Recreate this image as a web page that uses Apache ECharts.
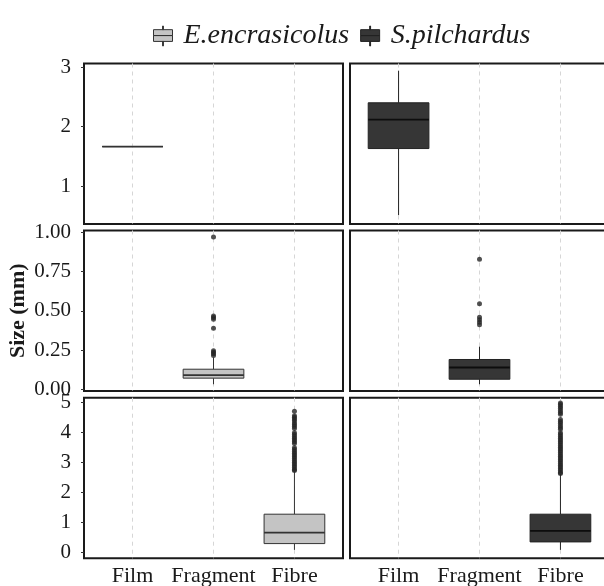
<!DOCTYPE html>
<html>
<head>
<meta charset="utf-8">
<script src="https://cdn.jsdelivr.net/npm/echarts@6/dist/echarts.min.js"></script>
<style>html,body{margin:0;padding:0;background:#fff}#c{width:604px;height:586px}</style>
</head>
<body>
<div id="c"></div>
<script>
// ---- data ----
const categories = ['Film', 'Fragment', 'Fibre'];
const speciesNames = ['E.encrasicolus', 'S.pilchardus'];
const rowTicks = [[1, 2, 3], [0, 0.25, 0.5, 0.75, 1], [0, 1, 2, 3, 4, 5]];
const rowRanges = [[0.36, 3.064], [-0.011, 1.013], [-0.2, 5.15]];
// box stats: [min whisker, Q1, median, Q3, max whisker]
const enFilm = [1.665, 1.665, 1.665, 1.665, 1.665];
const enFragment = [0.032, 0.071, 0.09, 0.128, 0.203];
const enFibre = [0.077, 0.287, 0.653, 1.267, 2.67];
const spFilm = [0.509, 1.631, 2.117, 2.402, 2.943];
const spFragment = [0.032, 0.064, 0.139, 0.19, 0.272];
const spFibre = [0.077, 0.343, 0.71, 1.267, 2.6];
// outliers
const enFragmentOut = [0.972, 0.468, 0.458, 0.447, 0.389, 0.246, 0.236, 0.226, 0.216];
const spFragmentOut = [0.83, 0.546, 0.46, 0.443, 0.428, 0.411];
const enFibreOut = [4.70, 4.55, 4.50, 4.44, 4.38, 4.31, 4.25, 4.19, 4.12, 3.98, 3.92, 3.86, 3.80, 3.74, 3.68, 3.62,
  3.48, 3.42, 3.36, 3.30, 3.24, 3.18, 3.12, 3.06, 3.00, 2.94, 2.88, 2.82, 2.76, 2.72];
const spFibreOut = [4.97, 4.92, 4.86, 4.80, 4.72, 4.66, 4.60, 4.42, 4.36, 4.30, 4.22, 4.16, 4.10, 3.98, 3.92, 3.86,
  3.80, 3.74, 3.68, 3.62, 3.56, 3.50, 3.44, 3.38, 3.32, 3.26, 3.20, 3.14, 3.08, 3.02, 2.96, 2.90, 2.84, 2.78, 2.72, 2.66, 2.62];

// ---- layout ----
const colLeft = [84, 350];
const panelW = 259;
const rowTop = [63.5, 230.5, 397.7];
const panelH = 160.5;
const fills = ['#c4c4c4', '#363636'];
const strokes = ['#333333', '#222222'];
const medians = ['#333333', '#0d0d0d'];
const FONT = '"Liberation Serif", "Times New Roman", serif';

const facets = [
  // [row, col, categoryIndex, stats, outliers]
  [0, 0, 0, enFilm, []],
  [0, 1, 0, spFilm, []],
  [1, 0, 1, enFragment, enFragmentOut],
  [1, 1, 1, spFragment, spFragmentOut],
  [2, 0, 2, enFibre, enFibreOut],
  [2, 1, 2, spFibre, spFibreOut]
];

function renderBox(fill, stroke, median) {
  return function (params, api) {
    const x = api.value(0);
    const lo = api.coord([x, api.value(1)]);
    const q1 = api.coord([x, api.value(2)]);
    const md = api.coord([x, api.value(3)]);
    const q3 = api.coord([x, api.value(4)]);
    const hi = api.coord([x, api.value(5)]);
    const half = api.size([0.75, 0])[0] / 2;
    const cx = q1[0];
    return {
      type: 'group',
      children: [
        { type: 'line', shape: { x1: cx, y1: q3[1], x2: cx, y2: hi[1] }, style: { stroke: stroke, lineWidth: 1 } },
        { type: 'line', shape: { x1: cx, y1: q1[1], x2: cx, y2: lo[1] }, style: { stroke: stroke, lineWidth: 1 } },
        { type: 'rect', shape: { x: cx - half, y: q3[1], width: 2 * half, height: q1[1] - q3[1] }, style: { fill: fill, stroke: stroke, lineWidth: 1 } },
        { type: 'line', shape: { x1: cx - half, y1: md[1], x2: cx + half, y2: md[1] }, style: { stroke: median, lineWidth: 1.8 } }
      ]
    };
  };
}

const grids = [], xAxes = [], yAxes = [], series = [];
let gi = 0;
for (let r = 0; r < 3; r++) {
  for (let c = 0; c < 2; c++) {
    grids.push({
      left: colLeft[c], top: rowTop[r], width: panelW, height: panelH,
      show: true, backgroundColor: '#fff', borderColor: '#1a1a1a', borderWidth: 2,
      containLabel: false, outerBoundsMode: 'none'
    });
    xAxes.push({
      gridIndex: gi, type: 'value', min: 0.4, max: 3.6,
      axisLine: { show: false },
      axisTick: { show: false, customValues: [1, 2, 3] },
      splitLine: { show: true, lineStyle: { color: '#d6d6d6', width: 1, type: [4, 4] } },
      axisLabel: {
        show: r === 2, customValues: [1, 2, 3], margin: 7,
        formatter: v => categories[Math.round(v) - 1] || '',
        fontFamily: FONT, fontSize: 22, color: '#1a1a1a'
      }
    });
    const yA = {
      gridIndex: gi, type: 'value', min: rowRanges[r][0], max: rowRanges[r][1],
      axisLine: { show: false },
      axisTick: { show: c === 0, customValues: rowTicks[r], length: 3, lineStyle: { color: '#333' } },
      splitLine: { show: false },
      axisLabel: {
        show: c === 0, customValues: rowTicks[r], margin: 13,
        formatter: v => r === 1 ? v.toFixed(2) : String(v),
        fontFamily: FONT, fontSize: 21, color: '#1a1a1a'
      }
    };
    if (r === 1 && c === 0) {
      yA.name = 'Size (mm)';
      yA.nameLocation = 'middle';
      yA.nameGap = 55;
      yA.nameTextStyle = { fontFamily: FONT, fontWeight: 'bold', fontSize: 22, color: '#1a1a1a' };
    }
    yAxes.push(yA);
    gi++;
  }
}

facets.forEach(f => {
  const [r, c, ci, stats, outs] = f;
  const idx = r * 2 + c;
  series.push({
    name: speciesNames[c], type: 'custom', xAxisIndex: idx, yAxisIndex: idx,
    renderItem: renderBox(fills[c], strokes[c], medians[c]),
    encode: { x: 0, y: [1, 2, 3, 4, 5] },
    itemStyle: { color: fills[c], borderColor: strokes[c] },
    data: [[ci + 1].concat(stats)],
    silent: true
  });
  if (outs.length) {
    series.push({
      name: speciesNames[c] + ' outliers', type: 'scatter', xAxisIndex: idx, yAxisIndex: idx,
      symbolSize: 5, itemStyle: { color: '#262626' },
      data: outs.map(v => [ci + 1, v]), silent: true
    });
  }
});

const legendIcon = 'path://M10,0 H11 V4 H10 Z M0,4 H21 V10.5 H0 Z M0,10.5 H21 V17 H0 Z M10,17 H11 V22 H10 Z';

const option = {
  animation: false,
  backgroundColor: '#fff',
  legend: {
    left: 148, top: 17, itemWidth: 19, itemHeight: 22, itemGap: 11,
    data: speciesNames.map((n, i) => ({
      name: n, icon: legendIcon,
      itemStyle: { color: fills[i], borderColor: strokes[i], borderWidth: 1 }
    })),
    textStyle: { fontFamily: FONT, fontStyle: 'italic', fontSize: 28, color: '#1a1a1a', padding: [0, 0, 0, 6] },
    selectedMode: false
  },
  grid: grids, xAxis: xAxes, yAxis: yAxes, series: series
};

const chart = echarts.init(document.getElementById('c'), null, { renderer: 'canvas' });
chart.setOption(option);
</script>
</body>
</html>
